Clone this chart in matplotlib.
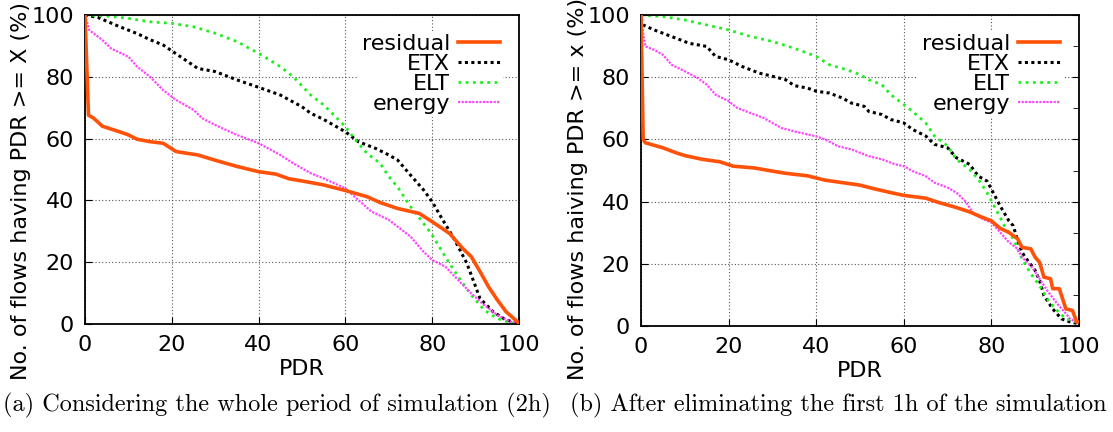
import matplotlib
matplotlib.use("Agg")
import matplotlib.pyplot as plt
from matplotlib.ticker import MultipleLocator

# ---- (a) whole period of simulation
a_res_x = [0, 0.8, 2, 4, 8, 10, 12, 15, 18, 21, 26, 30, 35, 40, 44, 47, 50, 55, 60, 65, 68, 72, 77, 80, 84, 87, 89, 91, 93, 95, 97, 100]
a_res_y = [100, 67.6, 66.6, 64, 62.2, 61.2, 59.8, 59, 58.5, 55.8, 54.7, 53, 51, 49.3, 48.5, 47, 46.3, 45, 43.2, 41.2, 39.3, 37.4, 35.8, 33.1, 29.3, 24.5, 21.8, 17, 12, 7.8, 4, 0.3]

a_etx_x = [0, 3, 8, 12, 15, 18, 22, 26, 30, 35, 40, 45, 50, 52, 55, 60, 63, 67, 70, 72, 75, 78, 80, 82, 85, 88, 90, 91, 94, 97, 100]
a_etx_y = [100, 99.2, 96.2, 94, 92, 90.3, 86.5, 82.7, 81.7, 79, 76.6, 74.1, 70.3, 68.2, 66.2, 62.2, 59, 56.8, 54.7, 53.1, 48.2, 43.4, 39.6, 34.7, 27.7, 19.6, 12.1, 8.3, 4, 1.3, 0.2]

a_elt_x = [0, 5, 10, 15, 20, 25, 30, 35, 40, 45, 48, 52, 55, 60, 62, 65, 68, 70, 72, 75, 78, 80, 83, 86, 89, 92, 95, 98, 100]
a_elt_y = [100, 99.7, 98.9, 97.8, 97.3, 96.2, 94.1, 91.4, 87.6, 83.3, 80, 74.1, 70.9, 63.9, 60.1, 55.2, 52, 47.7, 44.4, 38, 32.6, 28.8, 21.8, 15.3, 9.4, 4.5, 1.8, 0.4, 0.2]

a_eng_x = [0, 1, 4, 6, 10, 12, 15, 18, 21, 25, 27, 30, 35, 40, 45, 48, 52, 55, 60, 63, 66, 70, 75, 78, 80, 83, 86, 89, 92, 95, 98, 100]
a_eng_y = [100, 95.1, 91.9, 89.2, 86.5, 83.3, 80, 75.7, 72.5, 69.3, 66.6, 64.4, 61.2, 58.5, 54.7, 52, 48.8, 47.1, 43.9, 40.1, 36.4, 33.7, 28.3, 23.4, 20.7, 18.6, 14.2, 9.9, 6.1, 2.9, 0.8, 0.2]

# ---- (b) after eliminating the first 1h
b_res_x = [0, 0.5, 1, 5, 8, 10, 14, 18, 21, 26, 30, 33, 38, 42, 46, 50, 53, 57, 60, 65, 68, 72, 75, 78, 80, 82, 84, 86, 87, 89, 90, 91, 92, 93.5, 94, 95.5, 97, 98.5, 99.5, 100]
b_res_y = [100, 60, 58.9, 57.3, 55.7, 54.8, 53.6, 52.8, 51.4, 50.8, 49.8, 49.1, 48.3, 46.9, 46.1, 45.3, 44.2, 42.9, 42, 41.1, 39.7, 38.1, 36.7, 34.9, 33.8, 31.4, 30.1, 28, 25.3, 24.8, 22.1, 20.5, 15.7, 15.2, 12, 12, 5.5, 5, 1.3, 1.3]

b_etx_x = [0, 0.5, 3, 6, 9, 11, 15, 17, 20, 23, 27, 30, 33, 35, 38, 40, 43, 46, 48, 51, 52, 55, 57, 60, 62, 65, 67, 70, 72, 75, 77, 79, 80, 82, 84, 85, 86, 87, 88, 90, 91, 92, 94, 96, 98, 100]
b_etx_y = [98.9, 96.8, 95.2, 93.6, 92, 90.9, 89.9, 86.7, 85.6, 83.5, 81.3, 80.3, 79.2, 77.3, 76.5, 75.5, 74.9, 73.3, 71.7, 70.6, 69, 68, 66.4, 65.3, 63.2, 61.1, 58.4, 57.3, 54.1, 52, 48.2, 46.6, 44, 38.6, 33.8, 32.2, 27.4, 23.7, 21.6, 17.8, 14.6, 9.8, 5.5, 2.3, 1.3, 0.7]

b_elt_x = [0, 5, 10, 15, 20, 25, 30, 35, 40, 43, 47, 50, 52, 55, 57, 60, 62, 65, 67, 70, 72, 75, 77, 79, 81, 83, 85, 87, 89, 91, 93, 95, 97, 100]
b_elt_y = [100, 99.5, 98.4, 96.8, 95.2, 93.1, 91.5, 89.3, 86.7, 84, 82.4, 80.8, 79.2, 77.6, 74.4, 71.2, 69, 65.3, 61.1, 57.9, 53.6, 50.4, 47.2, 42.9, 37.6, 32.2, 28, 21.6, 16.8, 13, 8.2, 5, 2.3, 1.1]

b_eng_x = [0, 0.5, 1, 3, 5, 7, 10, 13, 15, 17, 20, 22, 25, 28, 30, 32, 35, 38, 40, 42, 45, 48, 50, 52, 55, 58, 60, 62, 65, 67, 70, 72, 74, 76, 78, 80, 82, 84, 86, 87, 89, 91, 93, 95, 97, 98, 100]
b_eng_y = [100, 94, 89.9, 88.8, 87.2, 84, 81.9, 79.7, 77.6, 74.4, 72.3, 70.1, 68.5, 66.9, 65.3, 63.7, 62.6, 61.6, 61, 60, 57.8, 56.8, 55.7, 54.6, 53.6, 52, 51.4, 49.8, 48.2, 46.1, 44.5, 42.9, 40.2, 36, 34.4, 33.3, 30.1, 26.9, 24.8, 22.1, 19.4, 15.2, 10.9, 7.2, 4, 2.3, 0.7]

labels = ["residual", "ETX", "ELT", "energy"]
ylabels = ["No. of flows having PDR >= X (%)", "No. of flows haiving PDR >= x (%)"]
captions = ["(a) Considering the whole period of simulation (2h)",
            "(b) After eliminating the first 1h of the simulation"]

fig = plt.figure(figsize=(11.13, 4.32), dpi=100)
fs = 16


def draw(ax, res, etx, elt, eng, ylab, minor, ylab_x, ylab_y):
    ax.plot(res[0], res[1], color="#ff5208", lw=2.6, label=labels[0], zorder=3)
    ax.plot(etx[0], etx[1], color="black", lw=2.2, ls=(0, (1, 1.1)), label=labels[1])
    ax.plot(elt[0], elt[1], color="#1fee1f", lw=2.0, ls=(0, (1, 1.6)), label=labels[2])
    ax.plot(eng[0], eng[1], color="#ff44ff", lw=1.6, ls=(0, (1, 0.6)), label=labels[3])
    ax.set_xlim(0, 100)
    ax.set_ylim(0, 100)
    ax.xaxis.set_major_locator(MultipleLocator(20))
    ax.yaxis.set_major_locator(MultipleLocator(20))
    ax.grid(True, ls=(0, (1, 2)), color="#555555", lw=0.8)
    ax.tick_params(direction="in", length=5, labelsize=fs, pad=8)
    if minor:
        ax.yaxis.set_minor_locator(MultipleLocator(10))
        ax.tick_params(which="both", right=True, direction="in")
        ax.tick_params(which="minor", length=4, left=False)
    for s in ax.spines.values():
        s.set_linewidth(1.3)
    ax.set_xlabel("PDR", fontsize=fs, labelpad=3)
    ax.set_ylabel(ylab, fontsize=fs)
    ax.yaxis.set_label_coords(ylab_x, ylab_y)
    leg = ax.legend(loc="upper right", markerfirst=False, fontsize=fs,
                    handlelength=1.9, handletextpad=0.35, labelspacing=0.0,
                    borderpad=0.15, borderaxespad=0.7, fancybox=False)
    leg.get_frame().set_edgecolor("none")
    leg.get_frame().set_alpha(1)


ax1 = fig.add_axes([85 / 1113, 1 - 324 / 432, 434 / 1113, 309 / 432])
draw(ax1, (a_res_x, a_res_y), (a_etx_x, a_etx_y), (a_elt_x, a_elt_y),
     (a_eng_x, a_eng_y), ylabels[0], False, -0.125, 0.432)

ax2 = fig.add_axes([641 / 1113, 1 - 326 / 432, 438 / 1113, 311 / 432])
draw(ax2, (b_res_x, b_res_y), (b_etx_x, b_etx_y), (b_elt_x, b_elt_y),
     (b_eng_x, b_eng_y), ylabels[1], True, -0.12, 0.44)

fig.text(277 / 1113, 1 - 405 / 432, captions[0], family="cmr10", fontsize=17.5,
         ha="center", va="center")
fig.text(838 / 1113, 1 - 405 / 432, captions[1], family="cmr10", fontsize=17.5,
         ha="center", va="center")

fig.savefig("out.png", dpi=100)
